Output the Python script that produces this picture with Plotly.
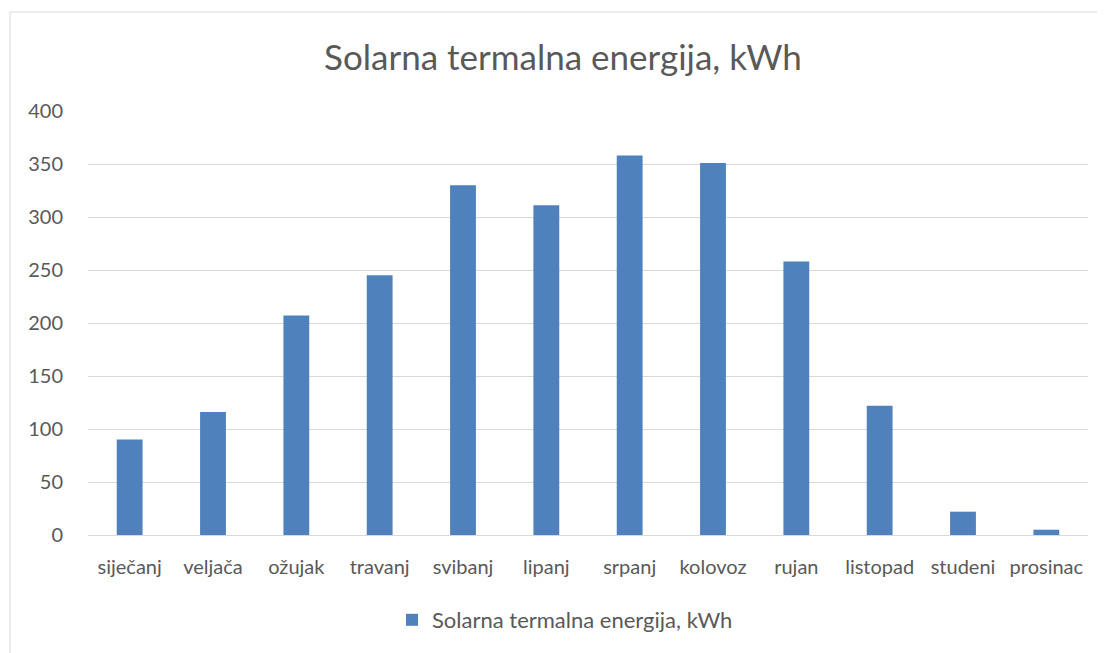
import plotly.graph_objects as go

months = ["siječanj", "veljača", "ožujak", "travanj", "svibanj", "lipanj",
          "srpanj", "kolovoz", "rujan", "listopad", "studeni", "prosinac"]
energy_kwh = [90, 116, 207, 245, 330, 311, 358, 351, 258, 122, 22, 5]
series_name = "Solarna termalna energija, kWh"
y_ticks = [0, 50, 100, 150, 200, 250, 300, 350, 400]

OFF = 8  # page body margin
W, H = 1105 - OFF, 653 - OFF
# screen-coordinate plot box
sl, sr, st, sb = 88, 1088, 111, 535
ml, mt = sl - OFF, st - OFF
mr = W - (sr - OFF)
mb = H - (sb - OFF)
pw, ph = W - ml - mr, H - mt - mb

def px_to_paper_x(x):
    return (x - OFF - ml) / pw

def px_to_paper_y(y):
    return (H - mb - (y - OFF)) / ph

font_fam = "Lato, 'Open Sans', sans-serif"
text_col = "#595959"

fig = go.Figure()
fig.add_trace(go.Bar(
    x=months, y=energy_kwh, name=series_name,
    marker=dict(color="#4f81bd", line=dict(width=0)),
    width=0.31,
))

fig.update_layout(
    width=W, height=H,
    margin=dict(l=ml, r=mr, t=mt, b=mb, autoexpand=False),
    paper_bgcolor="white", plot_bgcolor="white",
    title=dict(text=series_name, x=(563 - OFF) / W, xanchor="center", xref="container",
               y=1 - (58 - OFF) / H, yanchor="middle",
               font=dict(family=font_fam, size=35, color=text_col)),
    showlegend=True,
    legend=dict(orientation="h", x=px_to_paper_x(392), xanchor="left", y=px_to_paper_y(620), yanchor="middle",
                font=dict(family=font_fam, size=22, color=text_col)),
    xaxis=dict(showgrid=False, showline=False, ticks="", zeroline=False,
               ticklabelstandoff=18,
               tickfont=dict(family=font_fam, size=20, color=text_col)),
    yaxis=dict(range=[0, 400], tickvals=y_ticks, showgrid=True, gridcolor="#d9d9d9", gridwidth=1.3,
               zeroline=True, zerolinecolor="#d9d9d9", zerolinewidth=1.3, showline=False, ticks="",
               ticklabelstandoff=24,
               tickfont=dict(family=font_fam, size=20, color=text_col)),
)

# chart border
fig.add_shape(type="rect", xref="paper", yref="paper",
              x0=px_to_paper_x(10), x1=px_to_paper_x(1120),
              y0=px_to_paper_y(670), y1=px_to_paper_y(12),
              line=dict(color="#d9d9d9", width=1), layer="below")

fig.write_html("out.html")
